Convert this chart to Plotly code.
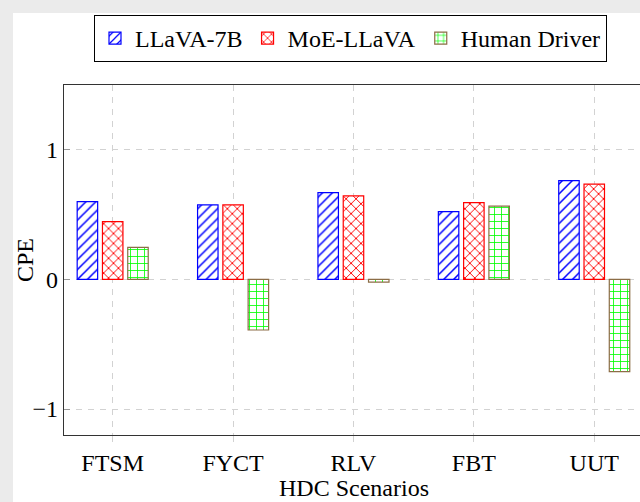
import plotly.graph_objects as go

categories = ["FTSM", "FYCT", "RLV", "FBT", "UUT"]
llava_7b = [0.60, 0.575, 0.67, 0.523, 0.762]
moe_llava = [0.446, 0.575, 0.644, 0.593, 0.735]
human_driver = [0.248, -0.39, -0.02, 0.565, -0.711]
y_ticks = [-1, 0, 1]

FONT = "Liberation Serif"

fig = go.Figure()
fig.add_trace(go.Bar(
    name="LLaVA-7B", x=categories, y=llava_7b,
    marker=dict(color="white", line=dict(color="#0000ff", width=1.2),
                pattern=dict(shape="/", fgcolor="#0000ff", bgcolor="white", size=7, solidity=0.22)),
))
fig.add_trace(go.Bar(
    name="MoE-LLaVA", x=categories, y=moe_llava,
    marker=dict(color="white", line=dict(color="#ff0000", width=1.2),
                pattern=dict(shape="x", fgcolor="#ff0000", bgcolor="white", size=7, solidity=0.25)),
))
fig.add_trace(go.Bar(
    name="Human Driver", x=categories, y=human_driver,
    marker=dict(color="white", line=dict(color="#8c6d46", width=1.2),
                pattern=dict(shape="+", fgcolor="#00ff00", bgcolor="white", size=7, solidity=0.22)),
))

grid_col = "#d2d2d2"
fig.update_layout(
    template="none",
    width=640, height=502,
    margin=dict(l=64, r=0, t=85, b=67),
    paper_bgcolor="#ebebeb",
    plot_bgcolor="white",
    barmode="group", bargap=0.37, bargroupgap=0.19,
    font=dict(family=FONT, size=24, color="black"),
    showlegend=True,
    legend=dict(
        orientation="h", xref="container", yref="container",
        x=94 / 640, y=1 - 15 / 502, xanchor="left", yanchor="top",
        bordercolor="black", borderwidth=1, bgcolor="white",
        font=dict(family=FONT, size=24, color="black"), itemwidth=30, tracegroupgap=0,
    ),
    xaxis=dict(
        type="category", range=[-0.4045, 4.38],
        showline=True, linecolor="#333333", linewidth=1.3, mirror=True,
        showgrid=True, gridcolor=grid_col, griddash="6px,6px", gridwidth=1,
        ticks="outside", ticklen=6, tickcolor=grid_col,
        tickfont=dict(family=FONT, size=24, color="black"),
    ),
    yaxis=dict(
        range=[-1.2, 1.5], tickvals=y_ticks,
        showline=True, linecolor="#333333", linewidth=1.3, mirror=False,
        showgrid=True, gridcolor=grid_col, griddash="6px,6px", gridwidth=1,
        zeroline=False,
        ticks="inside", ticklen=6, tickcolor="#999999",
        tickfont=dict(family=FONT, size=24, color="black"),
    ),
    shapes=[
        dict(type="rect", xref="paper", yref="paper", layer="below",
             x0=-0.0885, x1=1.2, y0=-0.4, y1=1.206,
             fillcolor="white", line=dict(width=0)),
    ],
    annotations=[
        dict(text="CPE", xref="paper", yref="paper", x=(25 - 64) / 576, y=0.5,
             xanchor="center", yanchor="middle", textangle=-90, showarrow=False,
             font=dict(family=FONT, size=24, color="black")),
        dict(text="HDC Scenarios", xref="paper", yref="paper", x=(354 - 64) / 576,
             y=-(488 - 435) / 350, xanchor="center", yanchor="middle", showarrow=False,
             font=dict(family=FONT, size=24, color="black")),
    ],
)

fig.write_html("out.html", config={"displayModeBar": False},
               post_script="document.body.style.margin='0';")
